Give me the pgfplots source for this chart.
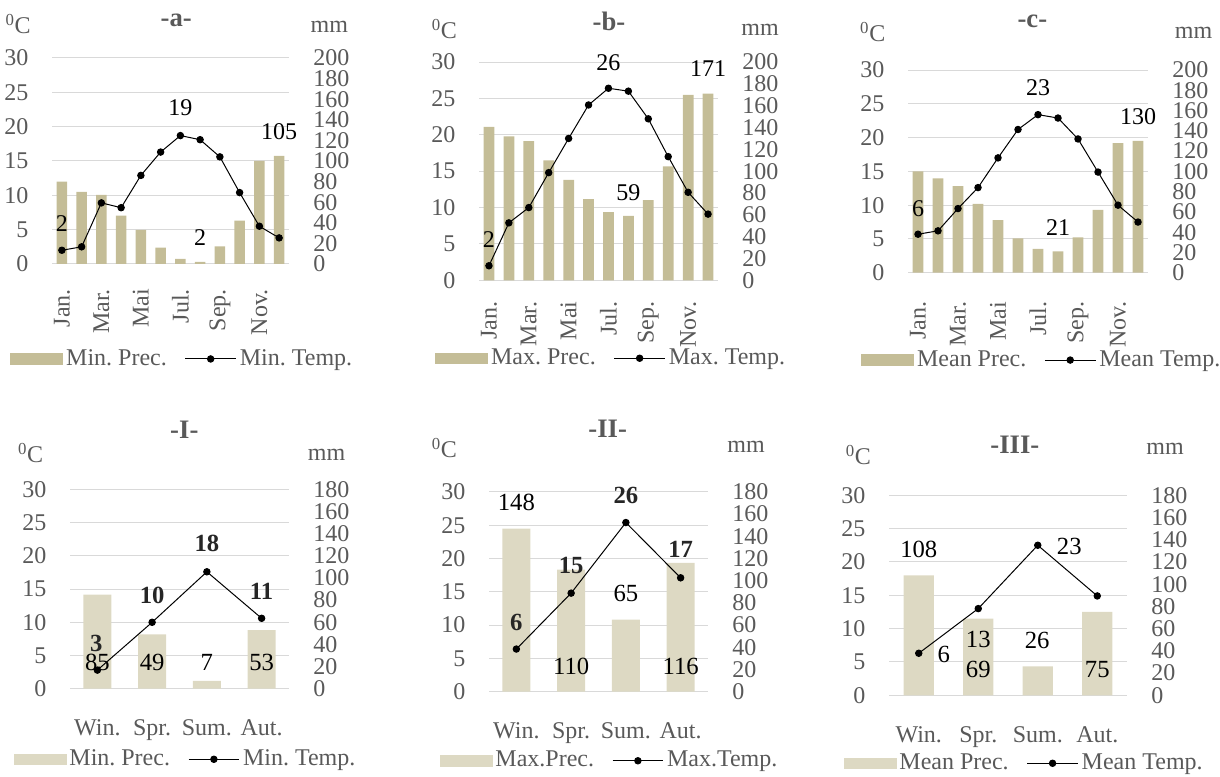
\documentclass[border=0pt]{standalone}
\usepackage{fontspec}
\setmainfont{Liberation Serif}
\usepackage{pgfplots}
\pgfplotsset{compat=1.18}
\definecolor{barA}{HTML}{C4BD97}
\definecolor{barB}{HTML}{DDD9C3}
\definecolor{labgray}{HTML}{595959}
\definecolor{gridgray}{HTML}{D9D9D9}
\pgfplotsset{
  panel/.style={scale only axis, anchor=south west, xmin=0.5, ymin=0,
    axis line style={draw=none}, major tick length=0pt, tick style={draw=none},
    clip=false, /pgf/number format/assume math mode=true,
    ticklabel style={text=labgray, inner sep=0pt},
    grid style={draw=gridgray, line width=0.75pt}},
  month/.style={xmax=12.5, xtick={1,3,5,7,9,11}, xticklabels={Jan.,Mar.,Mai,Jul.,Sep.,Nov.},
    xticklabel style={rotate=90, anchor=east}},
  season/.style={xmax=4.5, xtick={1,2,3,4}, xticklabels={Win.,Spr.,Sum.,Aut.},
    xticklabel style={anchor=north}, xticklabel shift=23pt},
  gridax/.style={ymax=30, ytick={0,5,...,30}, ymajorgrids, yticklabel shift=17.5pt},
  mmax/.style={ytick={0,20,...,#1}, ymax=#1, yticklabel pos=right, xtick=\empty, yticklabel shift=18pt},
  lineax/.style={hide axis, ymax=30,
    legend columns=2, legend cell align=left,
    legend style={draw=none, fill=none, inner sep=0pt, anchor=west,
      /tikz/every even column/.append style={column sep=11pt},
      nodes={inner sep=2.5pt, text=labgray}}},
  tline/.style={black, line width=0.75pt, mark=*, mark size=2.4pt, mark options={fill=black},
    legend image code/.code={\draw[black, line width=0.75pt] (0pt,0pt) -- (38pt,0pt); \fill[black] (19pt,0pt) circle (2.4pt);}},
}
\newcommand{\barleg}[1]{\addlegendimage{legend image code/.code={\fill[#1] (0pt,-4.1pt) rectangle (39pt,4.1pt);}}}
\begin{document}
\frenchspacing
\fontsize{18}{21.5}\selectfont
\begin{tikzpicture}
\useasboundingbox (0pt,0pt) rectangle (915pt,582.75pt);
% ---------------- panel a
\begin{axis}[panel, month, gridax, at={(39pt,384.75pt)}, width=177.75pt, height=154.5pt, xticklabel shift=18.75pt]
\end{axis}
\begin{axis}[panel, mmax=200, xmax=12.5, at={(39pt,384.75pt)}, width=177.75pt, height=154.5pt]
\addplot[ybar, bar width=0.54, fill=barA, draw=none] coordinates {(1,80) (2,70) (3,67) (4,47) (5,33) (6,16) (7,5) (8,2) (9,17) (10,42) (11,100) (12,105)};
\end{axis}
\begin{axis}[panel, lineax, xmax=12.5, at={(39pt,384.75pt)}, width=177.75pt, height=154.5pt, legend style={at={(-0.177,-0.461)}}]
\barleg{barA}\addlegendentry{Min. Prec.}
\addplot[tline] coordinates {(1,2.0) (2,2.5) (3,8.9) (4,8.2) (5,12.9) (6,16.3) (7,18.7) (8,18.1) (9,15.6) (10,10.4) (11,5.5) (12,3.8)};
\addlegendentry{Min. Temp.}
\node at (axis cs:1,5.9) {2};
\node at (axis cs:7,22.7) {19};
\node at (axis cs:8,3.9) {2};
\node at (axis cs:12,19.3) {105};
\node[text=labgray] at (axis description cs:-0.143,1.165) {\textsuperscript{0}C};
\node[text=labgray] at (axis description cs:1.17,1.152) {mm};
\node[text=labgray, font=\bfseries\fontsize{20}{24}\selectfont] at (axis description cs:0.524,1.181) {-a-};
\end{axis}
% ---------------- panel b
\begin{axis}[panel, month, gridax, at={(359.25pt,372.5pt)}, width=179.25pt, height=163.7pt, xticklabel shift=15.75pt]
\end{axis}
\begin{axis}[panel, mmax=200, xmax=12.5, at={(359.25pt,372.5pt)}, width=179.25pt, height=163.7pt]
\addplot[ybar, bar width=0.54, fill=barA, draw=none] coordinates {(1,140.5) (2,132) (3,127.5) (4,110) (5,92) (6,74.5) (7,62.5) (8,59) (9,73.5) (10,104.5) (11,170) (12,171)};
\end{axis}
\begin{axis}[panel, lineax, xmax=12.5, at={(359.25pt,372.5pt)}, width=179.25pt, height=163.7pt, legend style={at={(-0.184,-0.357)}}]
\barleg{barA}\addlegendentry{Max. Prec.}
\addplot[tline] coordinates {(1,2.0) (2,7.9) (3,10.0) (4,14.8) (5,19.5) (6,24.1) (7,26.4) (8,26.0) (9,22.2) (10,17.0) (11,12.1) (12,9.1)};
\addlegendentry{Max. Temp.}
\node at (axis cs:1,5.6) {2};
\node at (axis cs:7,29.9) {26};
\node at (axis cs:8,12.1) {59};
\node at (axis cs:12,29.1) {171};
\node[text=labgray] at (axis description cs:-0.145,1.15) {\textsuperscript{0}C};
\node[text=labgray] at (axis description cs:1.176,1.147) {mm};
\node[text=labgray, font=\bfseries\fontsize{20}{24}\selectfont] at (axis description cs:0.544,1.185) {-b-};
\end{axis}
% ---------------- panel c
\begin{axis}[panel, month, gridax, at={(681pt,378.2pt)}, width=180pt, height=152pt, xticklabel shift=21.75pt]
\end{axis}
\begin{axis}[panel, mmax=200, xmax=12.5, at={(681pt,378.2pt)}, width=180pt, height=152pt]
\addplot[ybar, bar width=0.54, fill=barA, draw=none] coordinates {(1,100) (2,93) (3,85.5) (4,68) (5,52) (6,34) (7,23.5) (8,21) (9,35) (10,62) (11,128) (12,130)};
\end{axis}
\begin{axis}[panel, lineax, xmax=12.5, at={(681pt,378.2pt)}, width=180pt, height=152pt, legend style={at={(-0.196,-0.431)}}]
\barleg{barA}\addlegendentry{Mean Prec.}
\addplot[tline] coordinates {(1,5.7) (2,6.2) (3,9.5) (4,12.6) (5,17.0) (6,21.2) (7,23.4) (8,22.9) (9,19.8) (10,14.9) (11,10.0) (12,7.5)};
\addlegendentry{Mean Temp.}
\node at (axis cs:1,9.5) {6};
\node at (axis cs:7,27.4) {23};
\node at (axis cs:8,6.7) {21};
\node at (axis cs:12,23.1) {130};
\node[text=labgray] at (axis description cs:-0.147,1.189) {\textsuperscript{0}C};
\node[text=labgray] at (axis description cs:1.19,1.184) {mm};
\node[text=labgray, font=\bfseries\fontsize{20}{24}\selectfont] at (axis description cs:0.518,1.238) {-c-};
\end{axis}
% ---------------- panel I
\begin{axis}[panel, season, gridax, at={(52.5pt,66.2pt)}, width=164.25pt, height=149.5pt]
\end{axis}
\begin{axis}[panel, mmax=180, xmax=4.5, at={(52.5pt,66.2pt)}, width=164.25pt, height=149.5pt]
\addplot[ybar, bar width=0.51, fill=barB, draw=none] coordinates {(1,85) (2,49) (3,7) (4,53)};
\end{axis}
\begin{axis}[panel, lineax, xmax=4.5, at={(52.5pt,66.2pt)}, width=164.25pt, height=149.5pt, legend style={at={(-0.259,-0.354)}}]
\barleg{barB}\addlegendentry{Min. Prec.}
\addplot[tline] coordinates {(1,2.8) (2,10.0) (3,17.6) (4,10.6)};
\addlegendentry{Min. Temp.}
\begin{scope}[every node/.style={font=\fontsize{18.5}{22}\selectfont}]
\node at (axis cs:1,3.9) {85};
\node at (axis cs:2,3.9) {49};
\node at (axis cs:3,3.9) {7};
\node at (axis cs:4,3.9) {53};
\node[font=\bfseries\fontsize{18.5}{22}\selectfont, text=black!85] at (axis cs:0.98,6.8) {3};
\node[font=\bfseries\fontsize{18.5}{22}\selectfont, text=black!85] at (axis cs:2,14.1) {10};
\node[font=\bfseries\fontsize{18.5}{22}\selectfont, text=black!85] at (axis cs:3,21.8) {18};
\node[font=\bfseries\fontsize{18.5}{22}\selectfont, text=black!85] at (axis cs:4,14.7) {11};
\end{scope}
\node[text=labgray] at (axis description cs:-0.18,1.184) {\textsuperscript{0}C};
\node[text=labgray] at (axis description cs:1.172,1.173) {mm};
\node[text=labgray, font=\bfseries\fontsize{20}{24}\selectfont] at (axis description cs:0.522,1.30) {-I-};
\end{axis}
% ---------------- panel II
\begin{axis}[panel, season, gridax, at={(366.75pt,64pt)}, width=164.25pt, height=149.8pt]
\end{axis}
\begin{axis}[panel, mmax=180, xmax=4.5, at={(366.75pt,64pt)}, width=164.25pt, height=149.8pt]
\addplot[ybar, bar width=0.51, fill=barB, draw=none] coordinates {(1,147) (2,110) (3,65) (4,116)};
\end{axis}
\begin{axis}[panel, lineax, xmax=4.5, at={(366.75pt,64pt)}, width=164.25pt, height=149.8pt, legend style={at={(-0.227,-0.346)}}]
\barleg{barB}\addlegendentry{Max.Prec.}
\addplot[tline] coordinates {(1,6.4) (2,14.8) (3,25.4) (4,17.1)};
\addlegendentry{Max.Temp.}
\begin{scope}[every node/.style={font=\fontsize{18.5}{22}\selectfont}]
\node at (axis cs:1,28.4) {148};
\node at (axis cs:2,3.86) {110};
\node at (axis cs:3,14.7) {65};
\node at (axis cs:4,3.86) {116};
\node[font=\bfseries\fontsize{18.5}{22}\selectfont, text=black!85] at (axis cs:1,10.4) {6};
\node[font=\bfseries\fontsize{18.5}{22}\selectfont, text=black!85] at (axis cs:2,18.9) {15};
\node[font=\bfseries\fontsize{18.5}{22}\selectfont, text=black!85] at (axis cs:3,29.4) {26};
\node[font=\bfseries\fontsize{18.5}{22}\selectfont, text=black!85] at (axis cs:4,21.3) {17};
\end{scope}
\node[text=labgray] at (axis description cs:-0.204,1.219) {\textsuperscript{0}C};
\node[text=labgray] at (axis description cs:1.174,1.227) {mm};
\node[text=labgray, font=\bfseries\fontsize{20}{24}\selectfont] at (axis description cs:0.542,1.314) {-II-};
\end{axis}
% ---------------- panel III
\begin{axis}[panel, season, gridax, at={(666.75pt,61.3pt)}, width=178.5pt, height=150pt]
\end{axis}
\begin{axis}[panel, mmax=180, xmax=4.5, at={(666.75pt,61.3pt)}, width=178.5pt, height=150pt]
\addplot[ybar, bar width=0.51, fill=barB, draw=none] coordinates {(1,108) (2,69) (3,26) (4,75)};
\end{axis}
\begin{axis}[panel, lineax, xmax=4.5, at={(666.75pt,61.3pt)}, width=178.5pt, height=150pt, legend style={at={(-0.192,-0.34)}}]
\barleg{barB}\addlegendentry{Mean Prec.}
\addplot[tline] coordinates {(1,6.3) (2,13.0) (3,22.5) (4,14.9)};
\addlegendentry{Mean Temp.}
\begin{scope}[every node/.style={font=\fontsize{18.5}{22}\selectfont}]
\node at (axis cs:1,21.9) {108};
\node at (axis cs:1.42,6.05) {6};
\node at (axis cs:2,8.3) {13};
\node at (axis cs:2,3.9) {69};
\node at (axis cs:2.99,8.2) {26};
\node at (axis cs:3.53,22.3) {23};
\node at (axis cs:4,3.9) {75};
\end{scope}
\node[text=labgray] at (axis description cs:-0.129,1.20) {\textsuperscript{0}C};
\node[text=labgray] at (axis description cs:1.16,1.23) {mm};
\node[text=labgray, font=\bfseries\fontsize{20}{24}\selectfont] at (axis description cs:0.529,1.25) {-III-};
\end{axis}
\end{tikzpicture}
\end{document}
